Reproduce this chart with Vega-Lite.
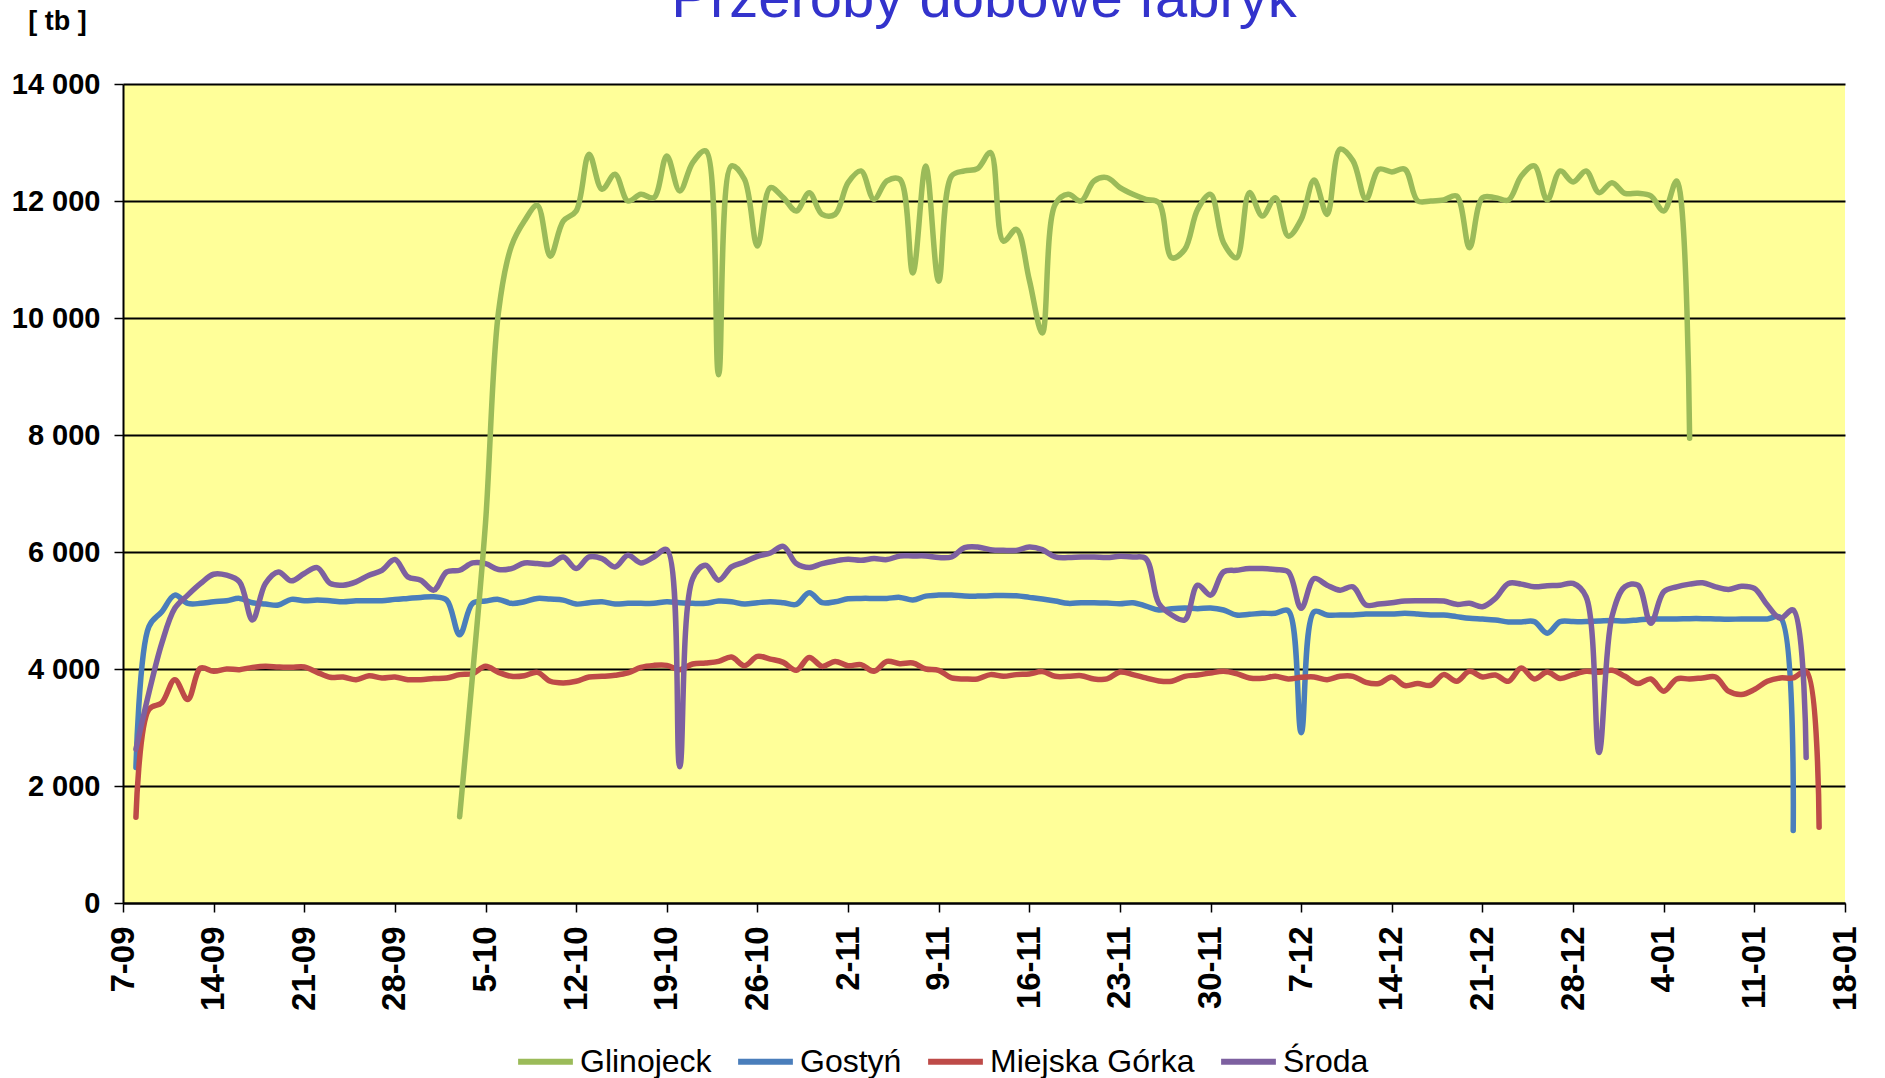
{
  "$schema": "https://vega.github.io/schema/vega-lite/v6.json",
  "autosize": "none",
  "width": 1722,
  "height": 819,
  "padding": {"left": 123, "top": 84, "right": 40, "bottom": 175},
  "background": "white",
  "title": {"text": "Przeroby dobowe fabryk", "font": "Liberation Sans", "fontSize": 58, "fontWeight": "normal", "color": "#3333CC", "anchor": "middle", "baseline": "alphabetic", "offset": -68},
  "data": {"values": [
    {"date":"2009-09-08","Gostyń":2317,"Miejska Górka":1467,"Środa":2629},
    {"date":"2009-09-09","Gostyń":4725,"Miejska Górka":3309,"Środa":3592},
    {"date":"2009-09-10","Gostyń":4980,"Miejska Górka":3422,"Środa":4442},
    {"date":"2009-09-11","Gostyń":5263,"Miejska Górka":3818,"Środa":5037},
    {"date":"2009-09-12","Gostyń":5122,"Miejska Górka":3479,"Środa":5263},
    {"date":"2009-09-13","Gostyń":5122,"Miejska Górka":4017,"Środa":5462},
    {"date":"2009-09-14","Gostyń":5150,"Miejska Górka":3960,"Środa":5620},
    {"date":"2009-09-15","Gostyń":5167,"Miejska Górka":4000,"Środa":5603},
    {"date":"2009-09-16","Gostyń":5207,"Miejska Górka":3989,"Środa":5490},
    {"date":"2009-09-17","Gostyń":5133,"Miejska Górka":4028,"Środa":4838},
    {"date":"2009-09-18","Gostyń":5110,"Miejska Górka":4045,"Środa":5462},
    {"date":"2009-09-19","Gostyń":5093,"Miejska Górka":4034,"Środa":5660},
    {"date":"2009-09-20","Gostyń":5190,"Miejska Górka":4028,"Środa":5507},
    {"date":"2009-09-21","Gostyń":5167,"Miejska Górka":4034,"Środa":5632},
    {"date":"2009-09-22","Gostyń":5178,"Miejska Górka":3943,"Środa":5734},
    {"date":"2009-09-23","Gostyń":5167,"Miejska Górka":3858,"Środa":5462},
    {"date":"2009-09-24","Gostyń":5150,"Miejska Górka":3864,"Środa":5433},
    {"date":"2009-09-25","Gostyń":5167,"Miejska Górka":3818,"Środa":5490},
    {"date":"2009-09-26","Gostyń":5167,"Miejska Górka":3886,"Środa":5603},
    {"date":"2009-09-27","Gostyń":5167,"Miejska Górka":3847,"Środa":5688},
    {"date":"2009-09-28","Gostyń":5190,"Miejska Górka":3864,"Środa":5870},
    {"date":"2009-09-29","Gostyń":5207,"Miejska Górka":3818,"Środa":5575},
    {"date":"2009-09-30","Gostyń":5224,"Miejska Górka":3818,"Środa":5518},
    {"date":"2009-10-01","Gostyń":5235,"Miejska Górka":3836,"Środa":5348},
    {"date":"2009-10-02","Gostyń":5178,"Miejska Górka":3847,"Środa":5660},
    {"date":"2009-10-03","Glinojeck":1475,"Gostyń":4584,"Miejska Górka":3904,"Środa":5688},
    {"date":"2009-10-04","Glinojeck":3900,"Gostyń":5122,"Miejska Górka":3920,"Środa":5813},
    {"date":"2009-10-05","Glinojeck":6500,"Gostyń":5161,"Miejska Górka":4045,"Środa":5802},
    {"date":"2009-10-06","Glinojeck":10100,"Gostyń":5190,"Miejska Górka":3943,"Środa":5700},
    {"date":"2009-10-07","Glinojeck":11229,"Gostyń":5122,"Miejska Górka":3875,"Środa":5717},
    {"date":"2009-10-08","Glinojeck":11657,"Gostyń":5150,"Miejska Górka":3886,"Środa":5813},
    {"date":"2009-10-09","Glinojeck":11926,"Gostyń":5207,"Miejska Górka":3943,"Środa":5802},
    {"date":"2009-10-10","Glinojeck":11057,"Gostyń":5195,"Miejska Górka":3790,"Środa":5790},
    {"date":"2009-10-11","Glinojeck":11657,"Gostyń":5178,"Miejska Górka":3762,"Środa":5915},
    {"date":"2009-10-12","Glinojeck":11829,"Gostyń":5110,"Miejska Górka":3790,"Środa":5717},
    {"date":"2009-10-13","Glinojeck":12800,"Gostyń":5133,"Miejska Górka":3864,"Środa":5915},
    {"date":"2009-10-14","Glinojeck":12200,"Gostyń":5150,"Miejska Górka":3875,"Środa":5887},
    {"date":"2009-10-15","Glinojeck":12457,"Gostyń":5110,"Miejska Górka":3892,"Środa":5745},
    {"date":"2009-10-16","Glinojeck":12000,"Gostyń":5122,"Miejska Górka":3932,"Środa":5943},
    {"date":"2009-10-17","Glinojeck":12114,"Gostyń":5122,"Miejska Górka":4028,"Środa":5813},
    {"date":"2009-10-18","Glinojeck":12057,"Gostyń":5122,"Miejska Górka":4062,"Środa":5915},
    {"date":"2009-10-19","Glinojeck":12771,"Gostyń":5150,"Miejska Górka":4062,"Środa":6040},
    {"date":"2009-10-20","Glinojeck":12171,"Gostyń":5133,"Miejska Górka":3989,"Środa":2330},
    {"date":"2009-10-21","Glinojeck":12657,"Gostyń":5122,"Miejska Górka":4085,"Środa":5547},
    {"date":"2009-10-22","Glinojeck":12857,"Gostyń":5122,"Miejska Górka":4102,"Środa":5773},
    {"date":"2009-10-23","Glinojeck":9029,"Gostyń":5161,"Miejska Górka":4130,"Środa":5518},
    {"date":"2009-10-24","Glinojeck":12600,"Gostyń":5150,"Miejska Górka":4204,"Środa":5745},
    {"date":"2009-10-25","Glinojeck":12371,"Gostyń":5110,"Miejska Górka":4057,"Środa":5830},
    {"date":"2009-10-26","Glinojeck":11229,"Gostyń":5133,"Miejska Górka":4215,"Środa":5926},
    {"date":"2009-10-27","Glinojeck":12229,"Gostyń":5150,"Miejska Górka":4170,"Środa":5983},
    {"date":"2009-10-28","Glinojeck":12057,"Gostyń":5133,"Miejska Górka":4113,"Środa":6096},
    {"date":"2009-10-29","Glinojeck":11829,"Gostyń":5105,"Miejska Górka":3977,"Środa":5802},
    {"date":"2009-10-30","Glinojeck":12143,"Gostyń":5303,"Miejska Górka":4198,"Środa":5734},
    {"date":"2009-10-31","Glinojeck":11771,"Gostyń":5133,"Miejska Górka":4045,"Środa":5802},
    {"date":"2009-11-01","Glinojeck":11771,"Gostyń":5150,"Miejska Górka":4130,"Środa":5847},
    {"date":"2009-11-02","Glinojeck":12314,"Gostyń":5201,"Miejska Górka":4057,"Środa":5875},
    {"date":"2009-11-03","Glinojeck":12514,"Gostyń":5207,"Miejska Górka":4074,"Środa":5858},
    {"date":"2009-11-04","Glinojeck":12029,"Gostyń":5207,"Miejska Górka":3960,"Środa":5887},
    {"date":"2009-11-05","Glinojeck":12343,"Gostyń":5207,"Miejska Górka":4130,"Środa":5870},
    {"date":"2009-11-06","Glinojeck":12371,"Gostyń":5224,"Miejska Górka":4091,"Środa":5932},
    {"date":"2009-11-07","Glinojeck":10771,"Gostyń":5178,"Miejska Górka":4102,"Środa":5932},
    {"date":"2009-11-08","Glinojeck":12600,"Gostyń":5246,"Miejska Górka":4000,"Środa":5932},
    {"date":"2009-11-09","Glinojeck":10629,"Gostyń":5263,"Miejska Górka":3977,"Środa":5904},
    {"date":"2009-11-10","Glinojeck":12429,"Gostyń":5263,"Miejska Górka":3847,"Środa":5915},
    {"date":"2009-11-11","Glinojeck":12514,"Gostyń":5246,"Miejska Górka":3830,"Środa":6074},
    {"date":"2009-11-12","Glinojeck":12554,"Gostyń":5246,"Miejska Górka":3830,"Środa":6085},
    {"date":"2009-11-13","Glinojeck":12829,"Gostyń":5252,"Miejska Górka":3904,"Środa":6040},
    {"date":"2009-11-14","Glinojeck":11314,"Gostyń":5258,"Miejska Górka":3875,"Środa":6028},
    {"date":"2009-11-15","Glinojeck":11514,"Gostyń":5252,"Miejska Górka":3904,"Środa":6028},
    {"date":"2009-11-16","Glinojeck":10650,"Gostyń":5224,"Miejska Górka":3915,"Środa":6085},
    {"date":"2009-11-17","Glinojeck":9743,"Gostyń":5195,"Miejska Górka":3955,"Środa":6040},
    {"date":"2009-11-18","Glinojeck":11943,"Gostyń":5161,"Miejska Górka":3875,"Środa":5915},
    {"date":"2009-11-19","Glinojeck":12114,"Gostyń":5122,"Miejska Górka":3875,"Środa":5904},
    {"date":"2009-11-20","Glinojeck":12000,"Gostyń":5133,"Miejska Górka":3886,"Środa":5915},
    {"date":"2009-11-21","Glinojeck":12343,"Gostyń":5133,"Miejska Górka":3830,"Środa":5915},
    {"date":"2009-11-22","Glinojeck":12400,"Gostyń":5127,"Miejska Górka":3830,"Środa":5904},
    {"date":"2009-11-23","Glinojeck":12229,"Gostyń":5116,"Miejska Górka":3949,"Środa":5926},
    {"date":"2009-11-24","Glinojeck":12114,"Gostyń":5133,"Miejska Górka":3904,"Środa":5915},
    {"date":"2009-11-25","Glinojeck":12029,"Gostyń":5076,"Miejska Górka":3847,"Środa":5887},
    {"date":"2009-11-26","Glinojeck":11971,"Gostyń":5008,"Miejska Górka":3796,"Środa":5122},
    {"date":"2009-11-27","Glinojeck":11029,"Gostyń":5031,"Miejska Górka":3790,"Środa":4923},
    {"date":"2009-11-28","Glinojeck":11171,"Gostyń":5042,"Miejska Górka":3875,"Środa":4838},
    {"date":"2009-11-29","Glinojeck":11857,"Gostyń":5031,"Miejska Górka":3898,"Środa":5433},
    {"date":"2009-11-30","Glinojeck":12114,"Gostyń":5042,"Miejska Górka":3932,"Środa":5263},
    {"date":"2009-12-01","Glinojeck":11286,"Gostyń":5008,"Miejska Górka":3960,"Środa":5660},
    {"date":"2009-12-02","Glinojeck":11029,"Gostyń":4923,"Miejska Górka":3920,"Środa":5688},
    {"date":"2009-12-03","Glinojeck":12143,"Gostyń":4935,"Miejska Górka":3847,"Środa":5717},
    {"date":"2009-12-04","Glinojeck":11743,"Gostyń":4952,"Miejska Górka":3840,"Środa":5717},
    {"date":"2009-12-05","Glinojeck":12057,"Gostyń":4952,"Miejska Górka":3875,"Środa":5700},
    {"date":"2009-12-06","Glinojeck":11400,"Gostyń":4997,"Miejska Górka":3830,"Środa":5660},
    {"date":"2009-12-07","Glinojeck":11686,"Gostyń":2912,"Miejska Górka":3858,"Środa":5037},
    {"date":"2009-12-08","Glinojeck":12357,"Gostyń":4980,"Miejska Górka":3864,"Środa":5547},
    {"date":"2009-12-09","Glinojeck":11771,"Gostyń":4923,"Miejska Górka":3818,"Środa":5433},
    {"date":"2009-12-10","Glinojeck":12886,"Gostyń":4923,"Miejska Górka":3875,"Środa":5348},
    {"date":"2009-12-11","Glinojeck":12686,"Gostyń":4923,"Miejska Górka":3875,"Środa":5405},
    {"date":"2009-12-12","Glinojeck":12029,"Gostyń":4940,"Miejska Górka":3773,"Środa":5093},
    {"date":"2009-12-13","Glinojeck":12543,"Gostyń":4940,"Miejska Górka":3751,"Środa":5110},
    {"date":"2009-12-14","Glinojeck":12497,"Gostyń":4940,"Miejska Górka":3864,"Środa":5133},
    {"date":"2009-12-15","Glinojeck":12543,"Gostyń":4952,"Miejska Górka":3717,"Środa":5161},
    {"date":"2009-12-16","Glinojeck":12000,"Gostyń":4940,"Miejska Górka":3751,"Środa":5167},
    {"date":"2009-12-17","Glinojeck":12000,"Gostyń":4923,"Miejska Górka":3722,"Środa":5167},
    {"date":"2009-12-18","Glinojeck":12017,"Gostyń":4923,"Miejska Górka":3904,"Środa":5161},
    {"date":"2009-12-19","Glinojeck":12086,"Gostyń":4895,"Miejska Górka":3790,"Środa":5105},
    {"date":"2009-12-20","Glinojeck":11200,"Gostyń":4867,"Miejska Górka":3960,"Środa":5122},
    {"date":"2009-12-21","Glinojeck":12057,"Gostyń":4855,"Miejska Górka":3864,"Środa":5065},
    {"date":"2009-12-22","Glinojeck":12057,"Gostyń":4838,"Miejska Górka":3898,"Środa":5207},
    {"date":"2009-12-23","Glinojeck":12017,"Gostyń":4804,"Miejska Górka":3790,"Środa":5462},
    {"date":"2009-12-24","Glinojeck":12429,"Gostyń":4804,"Miejska Górka":4017,"Środa":5451},
    {"date":"2009-12-25","Glinojeck":12600,"Gostyń":4810,"Miejska Górka":3830,"Środa":5405},
    {"date":"2009-12-26","Glinojeck":12017,"Gostyń":4612,"Miejska Górka":3949,"Środa":5422},
    {"date":"2009-12-27","Glinojeck":12514,"Gostyń":4810,"Miejska Górka":3838,"Środa":5433},
    {"date":"2009-12-28","Glinojeck":12326,"Gostyń":4810,"Miejska Górka":3904,"Środa":5462},
    {"date":"2009-12-29","Glinojeck":12514,"Gostyń":4810,"Miejska Górka":3960,"Środa":5235},
    {"date":"2009-12-30","Glinojeck":12143,"Gostyń":4821,"Miejska Górka":3943,"Środa":2572},
    {"date":"2009-12-31","Glinojeck":12314,"Gostyń":4827,"Miejska Górka":3977,"Środa":4895},
    {"date":"2010-01-01","Glinojeck":12131,"Gostyń":4821,"Miejska Górka":3875,"Środa":5405},
    {"date":"2010-01-02","Glinojeck":12131,"Gostyń":4838,"Miejska Górka":3751,"Środa":5433},
    {"date":"2010-01-03","Glinojeck":12086,"Gostyń":4855,"Miejska Górka":3830,"Środa":4782},
    {"date":"2010-01-04","Glinojeck":11829,"Gostyń":4855,"Miejska Górka":3620,"Środa":5320},
    {"date":"2010-01-05","Glinojeck":12343,"Gostyń":4855,"Miejska Górka":3830,"Środa":5405},
    {"date":"2010-01-06","Glinojeck":7943,"Gostyń":4861,"Miejska Górka":3830,"Środa":5451},
    {"date":"2010-01-07","Gostyń":4861,"Miejska Górka":3847,"Środa":5473},
    {"date":"2010-01-08","Gostyń":4855,"Miejska Górka":3864,"Środa":5405},
    {"date":"2010-01-09","Gostyń":4850,"Miejska Górka":3620,"Środa":5360},
    {"date":"2010-01-10","Gostyń":4855,"Miejska Górka":3564,"Środa":5416},
    {"date":"2010-01-11","Gostyń":4855,"Miejska Górka":3649,"Środa":5377},
    {"date":"2010-01-12","Gostyń":4855,"Miejska Górka":3790,"Środa":5093},
    {"date":"2010-01-13","Gostyń":4884,"Miejska Górka":3847,"Środa":4867},
    {"date":"2010-01-14","Gostyń":1240,"Miejska Górka":3847,"Środa":5008},
    {"date":"2010-01-15","Miejska Górka":3960,"Środa":2487},
    {"date":"2010-01-16","Miejska Górka":1297}
  ]},
  "transform": [
    {"fold": ["Glinojeck", "Gostyń", "Miejska Górka", "Środa"], "as": ["fabryka", "value"]},
    {"filter": "isValid(datum.value)"}
  ],
  "mark": {"type": "line", "interpolate": "catmull-rom", "strokeWidth": 5.5, "strokeCap": "round", "strokeJoin": "round", "clip": false},
  "encoding": {
    "x": {
      "field": "date", "type": "temporal",
      "scale": {"type": "utc", "domain": [{"year": 2009, "month": 9, "date": 7, "utc": true}, {"year": 2010, "month": 1, "date": 18, "utc": true}]},
      "axis": {
        "values": [
          {"year": 2009, "month": 9, "date": 7, "utc": true}, {"year": 2009, "month": 9, "date": 14, "utc": true},
          {"year": 2009, "month": 9, "date": 21, "utc": true}, {"year": 2009, "month": 9, "date": 28, "utc": true},
          {"year": 2009, "month": 10, "date": 5, "utc": true}, {"year": 2009, "month": 10, "date": 12, "utc": true},
          {"year": 2009, "month": 10, "date": 19, "utc": true}, {"year": 2009, "month": 10, "date": 26, "utc": true},
          {"year": 2009, "month": 11, "date": 2, "utc": true}, {"year": 2009, "month": 11, "date": 9, "utc": true},
          {"year": 2009, "month": 11, "date": 16, "utc": true}, {"year": 2009, "month": 11, "date": 23, "utc": true},
          {"year": 2009, "month": 11, "date": 30, "utc": true}, {"year": 2009, "month": 12, "date": 7, "utc": true},
          {"year": 2009, "month": 12, "date": 14, "utc": true}, {"year": 2009, "month": 12, "date": 21, "utc": true},
          {"year": 2009, "month": 12, "date": 28, "utc": true}, {"year": 2010, "month": 1, "date": 4, "utc": true},
          {"year": 2010, "month": 1, "date": 11, "utc": true}, {"year": 2010, "month": 1, "date": 18, "utc": true}
        ],
        "format": "%-d-%m",
        "title": null,
        "grid": false,
        "labelAngle": -90,
        "labelAlign": "right",
        "labelBaseline": "middle",
        "labelFont": "Liberation Sans",
        "labelFontSize": 33,
        "labelFontWeight": "bold",
        "labelColor": "black",
        "labelPadding": 14,
        "labelOverlap": false,
        "labelFlush": false,
        "tickColor": "black",
        "tickSize": 9,
        "tickWidth": 1.5,
        "domainColor": "black",
        "domainWidth": 2
      }
    },
    "y": {
      "field": "value", "type": "quantitative",
      "scale": {"domain": [0, 14000], "nice": false},
      "axis": {
        "values": [0, 2000, 4000, 6000, 8000, 10000, 12000, 14000],
        "labelExpr": "replace(format(datum.value, ','), ',', ' ')",
        "grid": true,
        "gridColor": "black",
        "gridWidth": 2,
        "gridOpacity": 1,
        "domainColor": "black",
        "domainWidth": 2,
        "tickColor": "black",
        "tickSize": 9,
        "tickWidth": 1.5,
        "labelFont": "Liberation Sans",
        "labelFontSize": 29,
        "labelFontWeight": "bold",
        "labelColor": "black",
        "labelPadding": 14,
        "title": "[ tb ]",
        "titleAngle": 0,
        "titleFont": "Liberation Sans",
        "titleFontSize": 27,
        "titleFontWeight": "bold",
        "titleColor": "black",
        "titleX": -66,
        "titleY": -63,
        "titleAlign": "center",
        "titleBaseline": "middle"
      }
    },
    "color": {
      "field": "fabryka", "type": "nominal",
      "scale": {"domain": ["Glinojeck", "Gostyń", "Miejska Górka", "Środa"], "range": ["#9BBB59", "#4A7EBB", "#BE4B48", "#7D60A0"]},
      "legend": {
        "title": null,
        "orient": "none",
        "legendX": 392,
        "legendY": 947,
        "direction": "horizontal",
        "symbolType": "stroke",
        "symbolStrokeWidth": 6,
        "symbolSize": 3000,
        "labelFont": "Liberation Sans",
        "labelFontSize": 32,
        "labelLimit": 0,
        "labelColor": "black",
        "labelOffset": 4,
        "columnPadding": 14
      }
    }
  },
  "config": {
    "view": {"fill": "#FFFF99", "stroke": null}
  }
}
